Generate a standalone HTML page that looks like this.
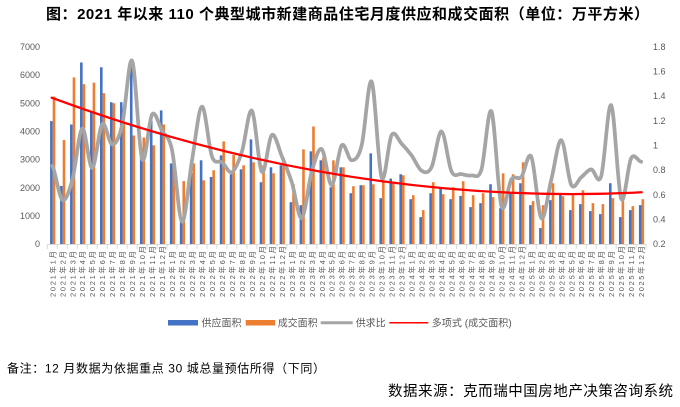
<!DOCTYPE html>
<html><head><meta charset="utf-8"><style>
html,body{margin:0;padding:0;background:#fff;}
svg{display:block;font-family:"Liberation Sans","Noto Sans CJK SC",sans-serif;}
</style></head><body>
<svg width="680" height="407" viewBox="0 0 680 407" xmlns="http://www.w3.org/2000/svg">
<rect width="680" height="407" fill="#fff"/>
<text x="46" y="19" font-size="15" font-weight="bold" fill="#000" textLength="603" lengthAdjust="spacing">图：2021 年以来 110 个典型城市新建商品住宅月度供应和成交面积（单位：万平方米）</text>

<g font-size="9" fill="#595959" text-anchor="end">
<text x="40" y="247.2">0</text><text x="40" y="219">1000</text><text x="40" y="190.8">2000</text><text x="40" y="162.6">3000</text><text x="40" y="134.5">4000</text><text x="40" y="106.3">5000</text><text x="40" y="78.1">6000</text><text x="40" y="49.9">7000</text>
</g>
<g font-size="9" fill="#595959">
<text x="653" y="247.2">0.2</text><text x="653" y="222.5">0.4</text><text x="653" y="197.9">0.6</text><text x="653" y="173.2">0.8</text><text x="653" y="148.6">1</text><text x="653" y="123.9">1.2</text><text x="653" y="99.2">1.4</text><text x="653" y="74.6">1.6</text><text x="653" y="49.9">1.8</text>
</g>

<g transform="matrix(9.98 0 0 -0.028186 50.1 244)" fill="#4472c4">
<rect x="0" width=".26" height="4360"/><rect x="1" width=".26" height="2060"/><rect x="2" width=".26" height="4240"/><rect x="3" width=".26" height="6440"/><rect x="4" width=".26" height="4680"/><rect x="5" width=".26" height="6270"/><rect x="6" width=".26" height="5030"/><rect x="7" width=".26" height="5030"/><rect x="8" width=".26" height="6490"/><rect x="9" width=".26" height="3360"/>
<rect x="10" width=".26" height="4380"/><rect x="11" width=".26" height="4740"/><rect x="12" width=".26" height="2860"/><rect x="13" width=".26" height="850"/><rect x="14" width=".26" height="2510"/><rect x="15" width=".26" height="2970"/><rect x="16" width=".26" height="2380"/><rect x="17" width=".26" height="3145"/><rect x="18" width=".26" height="2474"/><rect x="19" width=".26" height="2650"/>
<rect x="20" width=".26" height="3711"/><rect x="21" width=".26" height="2191"/><rect x="22" width=".26" height="2721"/><rect x="23" width=".26" height="2792"/><rect x="24" width=".26" height="1484"/><rect x="25" width=".26" height="1378"/><rect x="26" width=".26" height="3287"/><rect x="27" width=".26" height="2969"/><rect x="28" width=".26" height="2014"/><rect x="29" width=".26" height="2721"/>
<rect x="30" width=".26" height="1802"/><rect x="31" width=".26" height="2085"/><rect x="32" width=".26" height="3216"/><rect x="33" width=".26" height="1626"/><rect x="34" width=".26" height="2321"/><rect x="35" width=".26" height="2474"/><rect x="36" width=".26" height="1590"/><rect x="37" width=".26" height="954"/><rect x="38" width=".26" height="1802"/><rect x="39" width=".26" height="1967"/>
<rect x="40" width=".26" height="1590"/><rect x="41" width=".26" height="1708"/><rect x="42" width=".26" height="1308"/><rect x="43" width=".26" height="1449"/><rect x="44" width=".26" height="2120"/><rect x="45" width=".26" height="1272"/><rect x="46" width=".26" height="1790"/><rect x="47" width=".26" height="2156"/><rect x="48" width=".26" height="1378"/><rect x="49" width=".26" height="565"/>
<rect x="50" width=".26" height="1555"/><rect x="51" width=".26" height="1767"/><rect x="52" width=".26" height="1202"/><rect x="53" width=".26" height="1414"/><rect x="54" width=".26" height="1166"/><rect x="55" width=".26" height="1060"/><rect x="56" width=".26" height="2156"/><rect x="57" width=".26" height="954"/><rect x="58" width=".26" height="1202"/><rect x="59" width=".26" height="1378"/>
</g>
<g transform="matrix(9.98 0 0 -0.028186 52.7 244)" fill="#ed7d31">
<rect x="0" width=".26" height="5230"/><rect x="1" width=".26" height="3690"/><rect x="2" width=".26" height="5910"/><rect x="3" width=".26" height="5670"/><rect x="4" width=".26" height="5725"/><rect x="5" width=".26" height="5350"/><rect x="6" width=".26" height="4995"/><rect x="7" width=".26" height="4320"/><rect x="8" width=".26" height="3850"/><rect x="9" width=".26" height="3780"/>
<rect x="10" width=".26" height="3500"/><rect x="11" width=".26" height="4240"/><rect x="12" width=".26" height="2975"/><rect x="13" width=".26" height="2230"/><rect x="14" width=".26" height="2860"/><rect x="15" width=".26" height="2260"/><rect x="16" width=".26" height="2615"/><rect x="17" width=".26" height="3640"/><rect x="18" width=".26" height="3160"/><rect x="19" width=".26" height="2792"/>
<rect x="20" width=".26" height="2898"/><rect x="21" width=".26" height="2792"/><rect x="22" width=".26" height="2509"/><rect x="23" width=".26" height="3063"/><rect x="24" width=".26" height="2120"/><rect x="25" width=".26" height="3357"/><rect x="26" width=".26" height="4170"/><rect x="27" width=".26" height="3063"/><rect x="28" width=".26" height="2969"/><rect x="29" width=".26" height="2721"/>
<rect x="30" width=".26" height="2050"/><rect x="31" width=".26" height="2085"/><rect x="32" width=".26" height="2120"/><rect x="33" width=".26" height="2203"/><rect x="34" width=".26" height="2144"/><rect x="35" width=".26" height="2439"/><rect x="36" width=".26" height="1731"/><rect x="37" width=".26" height="1202"/><rect x="38" width=".26" height="2191"/><rect x="39" width=".26" height="1767"/>
<rect x="40" width=".26" height="2014"/><rect x="41" width=".26" height="2226"/><rect x="42" width=".26" height="1731"/><rect x="43" width=".26" height="1802"/><rect x="44" width=".26" height="1661"/><rect x="45" width=".26" height="2509"/><rect x="46" width=".26" height="2474"/><rect x="47" width=".26" height="2898"/><rect x="48" width=".26" height="1520"/><rect x="49" width=".26" height="1378"/>
<rect x="50" width=".26" height="2156"/><rect x="51" width=".26" height="1696"/><rect x="52" width=".26" height="1767"/><rect x="53" width=".26" height="1908"/><rect x="54" width=".26" height="1449"/><rect x="55" width=".26" height="1414"/><rect x="56" width=".26" height="1626"/><rect x="57" width=".26" height="1680"/><rect x="58" width=".26" height="1343"/><rect x="59" width=".26" height="1590"/>
</g>

<path d="M47.3 244.5H646.1" stroke="#d9d9d9" stroke-width="1" fill="none"/>
<g transform="translate(47.3 244) scale(9.98 1)">
<path vector-effect="non-scaling-stroke" stroke="#d9d9d9" stroke-width="1" fill="none" d="M0 0V5M1 0V5M2 0V5M3 0V5M4 0V5M5 0V5M6 0V5M7 0V5M8 0V5M9 0V5M10 0V5M11 0V5M12 0V5M13 0V5M14 0V5M15 0V5M16 0V5M17 0V5M18 0V5M19 0V5M20 0V5M21 0V5M22 0V5M23 0V5M24 0V5M25 0V5M26 0V5M27 0V5M28 0V5M29 0V5M30 0V5M31 0V5M32 0V5M33 0V5M34 0V5M35 0V5M36 0V5M37 0V5M38 0V5M39 0V5M40 0V5M41 0V5M42 0V5M43 0V5M44 0V5M45 0V5M46 0V5M47 0V5M48 0V5M49 0V5M50 0V5M51 0V5M52 0V5M53 0V5M54 0V5M55 0V5M56 0V5M57 0V5M58 0V5M59 0V5M60 0V5"/>
</g>

<g transform="matrix(9.98 0 0 -123.3 52.29 268.66)">
<path vector-effect="non-scaling-stroke" fill="none" stroke="#a5a5a5" stroke-width="3.75" stroke-linejoin="round" stroke-linecap="round" d="M0 .834 C.333 .788 .667 .5775 1 .558 S1.667 .6207 2 .717 S2.667 1.1193 3 1.136 S3.667 .811 4 .817 S4.667 1.1403 5 1.172 S5.667 1.0083 6 1.007 S6.667 1.0508 7 1.164 S7.667 1.7318 8 1.686 S8.667 .9615 9 .889 S9.667 1.2128 10 1.251 S10.667 1.1663 11 1.118 S11.667 1.0838 12 .961 S12.667 .3948 13 .381 S13.667 .7225 14 .878 S14.667 1.3087 15 1.314 S15.667 .985 16 .910 S16.667 .8852 17 .864 S17.667 .7688 18 .783 S18.667 .866 19 .949 S19.667 1.3083 20 1.281 S20.667 .8178 21 .785 S21.667 1.0628 22 1.084 S22.667 .976 23 .912 S23.667 .7837 24 .700 S24.667 .3953 25 .410 S25.667 .6948 26 .788 S26.667 .9873 27 .969 S27.667 .6728 28 .678 S28.667 .9665 29 1 S29.667 .879 30 .879 S30.667 .8937 31 1 S31.667 1.5607 32 1.517 S32.667 .8103 33 .738 S33.667 1.037 34 1.083 S34.667 1.0413 35 1.014 S35.667 .9557 36 .919 S36.667 .8102 37 .794 S37.667 .7688 38 .822 S38.667 1.1185 39 1.113 S39.667 .8467 40 .789 S40.667 .7725 41 .767 S41.667 .7498 42 .756 S42.667 .7173 43 .804 S43.667 1.3255 44 1.276 S44.667 .599 45 .507 S45.667 .6845 46 .724 S46.667 .7135 47 .744 S47.667 .9627 48 .907 S48.667 .441 49 .410 S49.667 .6157 50 .721 S50.667 1.0488 51 1.042 S51.667 .7302 52 .680 S52.667 .7202 53 .741 S53.667 .8035 54 .805 S54.667 .6632 55 .750 S55.667 1.3563 56 1.326 S56.667 .6398 57 .568 S57.667 .8452 58 .895 S58.667 .8717 59 .867"/>
</g>

<path d="M51.7 97.7 Q346.7 207.1 641.7 192.3" fill="none" stroke="#ff0000" stroke-width="2.25" stroke-linecap="round"/>

<g font-size="7.5" fill="#595959" lengthAdjust="spacing">
<text transform="translate(55.3 297) rotate(-90)" textLength="46">2021年1月</text>
<text transform="translate(65.3 297) rotate(-90)" textLength="46">2021年2月</text>
<text transform="translate(75.3 297) rotate(-90)" textLength="46">2021年3月</text>
<text transform="translate(85.2 297) rotate(-90)" textLength="46">2021年4月</text>
<text transform="translate(95.2 297) rotate(-90)" textLength="46">2021年5月</text>
<text transform="translate(105.2 297) rotate(-90)" textLength="46">2021年6月</text>
<text transform="translate(115.2 297) rotate(-90)" textLength="46">2021年7月</text>
<text transform="translate(125.2 297) rotate(-90)" textLength="46">2021年8月</text>
<text transform="translate(135.1 297) rotate(-90)" textLength="46">2021年9月</text>
<text transform="translate(145.1 297) rotate(-90)" textLength="51">2021年10月</text>
<text transform="translate(155.1 297) rotate(-90)" textLength="51">2021年11月</text>
<text transform="translate(165.1 297) rotate(-90)" textLength="51">2021年12月</text>
<text transform="translate(175.1 297) rotate(-90)" textLength="46">2022年1月</text>
<text transform="translate(185.0 297) rotate(-90)" textLength="46">2022年2月</text>
<text transform="translate(195.0 297) rotate(-90)" textLength="46">2022年3月</text>
<text transform="translate(205.0 297) rotate(-90)" textLength="46">2022年4月</text>
<text transform="translate(215.0 297) rotate(-90)" textLength="46">2022年5月</text>
<text transform="translate(225.0 297) rotate(-90)" textLength="46">2022年6月</text>
<text transform="translate(234.9 297) rotate(-90)" textLength="46">2022年7月</text>
<text transform="translate(244.9 297) rotate(-90)" textLength="46">2022年8月</text>
<text transform="translate(254.9 297) rotate(-90)" textLength="46">2022年9月</text>
<text transform="translate(264.9 297) rotate(-90)" textLength="51">2022年10月</text>
<text transform="translate(274.9 297) rotate(-90)" textLength="51">2022年11月</text>
<text transform="translate(284.8 297) rotate(-90)" textLength="51">2022年12月</text>
<text transform="translate(294.8 297) rotate(-90)" textLength="46">2023年1月</text>
<text transform="translate(304.8 297) rotate(-90)" textLength="46">2023年2月</text>
<text transform="translate(314.8 297) rotate(-90)" textLength="46">2023年3月</text>
<text transform="translate(324.8 297) rotate(-90)" textLength="46">2023年4月</text>
<text transform="translate(334.7 297) rotate(-90)" textLength="46">2023年5月</text>
<text transform="translate(344.7 297) rotate(-90)" textLength="46">2023年6月</text>
<text transform="translate(354.7 297) rotate(-90)" textLength="46">2023年7月</text>
<text transform="translate(364.7 297) rotate(-90)" textLength="46">2023年8月</text>
<text transform="translate(374.7 297) rotate(-90)" textLength="46">2023年9月</text>
<text transform="translate(384.6 297) rotate(-90)" textLength="51">2023年10月</text>
<text transform="translate(394.6 297) rotate(-90)" textLength="51">2023年11月</text>
<text transform="translate(404.6 297) rotate(-90)" textLength="51">2023年12月</text>
<text transform="translate(414.6 297) rotate(-90)" textLength="46">2024年1月</text>
<text transform="translate(424.6 297) rotate(-90)" textLength="46">2024年2月</text>
<text transform="translate(434.5 297) rotate(-90)" textLength="46">2024年3月</text>
<text transform="translate(444.5 297) rotate(-90)" textLength="46">2024年4月</text>
<text transform="translate(454.5 297) rotate(-90)" textLength="46">2024年5月</text>
<text transform="translate(464.5 297) rotate(-90)" textLength="46">2024年6月</text>
<text transform="translate(474.5 297) rotate(-90)" textLength="46">2024年7月</text>
<text transform="translate(484.4 297) rotate(-90)" textLength="46">2024年8月</text>
<text transform="translate(494.4 297) rotate(-90)" textLength="46">2024年9月</text>
<text transform="translate(504.4 297) rotate(-90)" textLength="51">2024年10月</text>
<text transform="translate(514.4 297) rotate(-90)" textLength="51">2024年11月</text>
<text transform="translate(524.4 297) rotate(-90)" textLength="51">2024年12月</text>
<text transform="translate(534.3 297) rotate(-90)" textLength="46">2025年1月</text>
<text transform="translate(544.3 297) rotate(-90)" textLength="46">2025年2月</text>
<text transform="translate(554.3 297) rotate(-90)" textLength="46">2025年3月</text>
<text transform="translate(564.3 297) rotate(-90)" textLength="46">2025年4月</text>
<text transform="translate(574.3 297) rotate(-90)" textLength="46">2025年5月</text>
<text transform="translate(584.2 297) rotate(-90)" textLength="46">2025年6月</text>
<text transform="translate(594.2 297) rotate(-90)" textLength="46">2025年7月</text>
<text transform="translate(604.2 297) rotate(-90)" textLength="46">2025年8月</text>
<text transform="translate(614.2 297) rotate(-90)" textLength="46">2025年9月</text>
<text transform="translate(624.2 297) rotate(-90)" textLength="51">2025年10月</text>
<text transform="translate(634.1 297) rotate(-90)" textLength="51">2025年11月</text>
<text transform="translate(644.1 297) rotate(-90)" textLength="51">2025年12月</text>
</g>

<g font-size="10" fill="#595959">
<rect x="168" y="320" width="30" height="5.5" fill="#4472c4"/>
<text x="201.5" y="326.5">供应面积</text>
<rect x="245.7" y="320" width="29.5" height="5.5" fill="#ed7d31"/>
<text x="277.7" y="326.5">成交面积</text>
<line x1="320.7" x2="352.7" y1="322.7" y2="322.7" stroke="#a5a5a5" stroke-width="3"/>
<text x="355.7" y="326.5">供求比</text>
<line x1="389.3" x2="428.3" y1="322.7" y2="322.7" stroke="#ff0000" stroke-width="1.5"/>
<text x="431.7" y="326.5" textLength="80" lengthAdjust="spacing">多项式 (成交面积)</text>
</g>

<text x="7" y="372.5" font-size="12" fill="#000" textLength="318" lengthAdjust="spacing">备注：12 月数据为依据重点 30 城总量预估所得（下同）</text>
<text x="388" y="396" font-size="14.5" fill="#000" textLength="285" lengthAdjust="spacing">数据来源：克而瑞中国房地产决策咨询系统</text>
</svg>
</body></html>
